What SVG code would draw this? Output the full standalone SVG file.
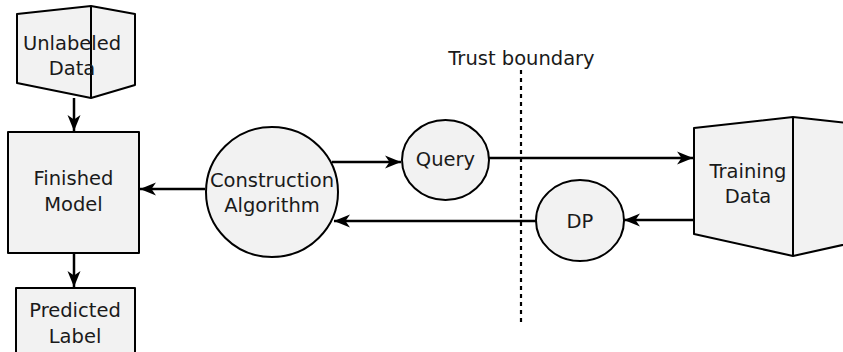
<svg xmlns="http://www.w3.org/2000/svg" width="843" height="352" viewBox="0 0 843 352">
<style>
.shape{fill:#f2f2f2;stroke:#000;stroke-width:2;stroke-linejoin:round}
.edge{fill:none;stroke:#000;stroke-width:2.5}
text{font-family:"DejaVu Sans",Verdana,sans-serif;font-size:19.5px;fill:#1a1a1a;text-anchor:middle}
</style>
<defs>
<marker id="arr" markerUnits="userSpaceOnUse" markerWidth="17" markerHeight="15" refX="16" refY="7" orient="auto">
<path d="M0,0.5 L16,7 L0,13.5 L4.5,7 z" fill="#000"/>
</marker>
</defs>
<rect width="843" height="352" fill="#fff"/>
<g id="connectors">
<line class="edge" x1="74" y1="98" x2="74" y2="131" marker-end="url(#arr)"/>
<line class="edge" x1="74" y1="253" x2="74" y2="287" marker-end="url(#arr)"/>
<line class="edge" x1="205" y1="189" x2="140" y2="189" marker-end="url(#arr)"/>
<line class="edge" x1="332" y1="162" x2="401" y2="162" marker-end="url(#arr)"/>
<line class="edge" x1="489" y1="158" x2="693" y2="158" marker-end="url(#arr)"/>
<line class="edge" x1="694" y1="220" x2="624" y2="220" marker-end="url(#arr)"/>
<line class="edge" x1="536" y1="221" x2="334" y2="221" marker-end="url(#arr)"/>
</g>
<g id="trust-boundary">
<line x1="521" y1="70" x2="521" y2="324" stroke="#000" stroke-width="2.2" stroke-dasharray="4 4"/>
<text x="521.5" y="65">Trust boundary</text>
</g>
<g id="unlabeled-data">
<polygon class="shape" points="17,14 91,6 135,14 135,85 91,98 17,83"/>
<line class="shape" x1="91" y1="6" x2="91" y2="98"/>
<text x="72" y="50">Unlabeled</text>
<text x="72" y="75">Data</text>
</g>
<g id="finished-model">
<rect class="shape" x="8" y="132" width="131" height="121"/>
<text x="73.5" y="185">Finished</text>
<text x="73.5" y="211">Model</text>
</g>
<g id="predicted-label">
<rect class="shape" x="16" y="288" width="119" height="80"/>
<text x="75" y="317">Predicted</text>
<text x="75" y="343">Label</text>
</g>
<g id="construction-algorithm">
<ellipse class="shape" cx="272" cy="192" rx="66" ry="65"/>
<text x="272" y="187">Construction</text>
<text x="272" y="212">Algorithm</text>
</g>
<g id="query">
<ellipse class="shape" cx="445.5" cy="160" rx="43.5" ry="40"/>
<text x="445.5" y="166">Query</text>
</g>
<g id="dp">
<ellipse class="shape" cx="580" cy="220.5" rx="44" ry="40.5"/>
<text x="580" y="228">DP</text>
</g>
<g id="training-data">
<polygon class="shape" points="694,128 793,117 892,128 892,234 793,256 694,234"/>
<line class="shape" x1="793" y1="117" x2="793" y2="256"/>
<text x="748" y="178">Training</text>
<text x="748" y="203">Data</text>
</g>
</svg>
